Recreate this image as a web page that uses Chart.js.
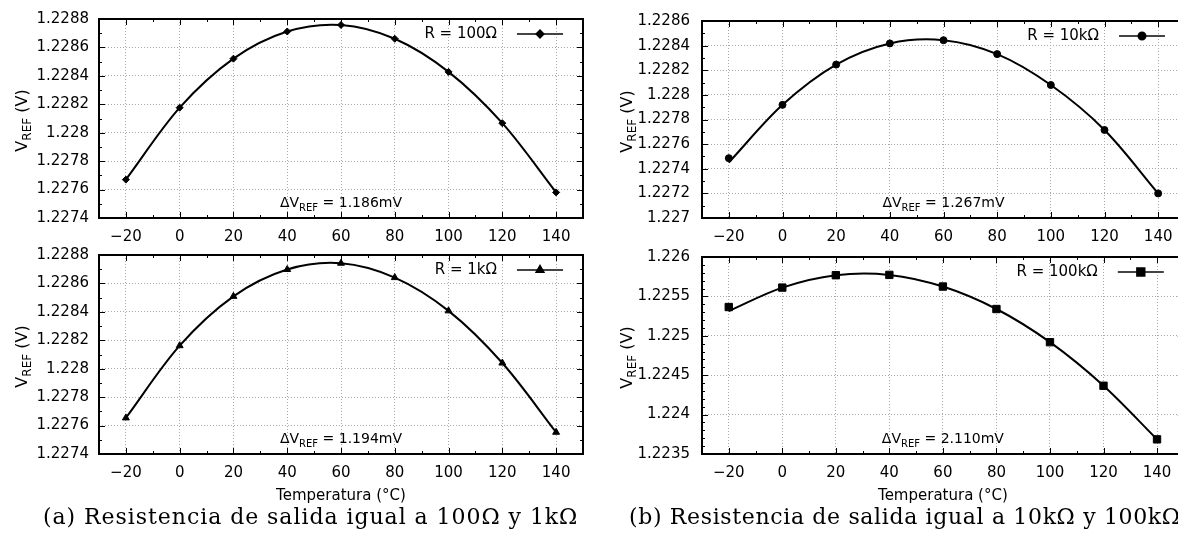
<!DOCTYPE html>
<html>
<head>
<meta charset="utf-8">
<script src="https://cdn.jsdelivr.net/npm/chart.js@4.4.1/dist/chart.umd.min.js"></script>
<style>
  html, body { margin: 0; padding: 0; background: #fff; }
  body { width: 1178px; height: 533px; overflow: hidden; position: relative; }
  canvas { position: absolute; }
  .caption { position: absolute; top: 504px; font-family: 'DejaVu Serif', serif; font-size: 22px; letter-spacing: 0.95px; white-space: nowrap; color: #000; line-height: 26px; }
</style>
</head>
<body>
<canvas id="chart-100" width="590" height="250" style="left:0;top:0"></canvas>
<canvas id="chart-1k" width="590" height="297" style="left:0;top:236px"></canvas>
<canvas id="chart-10k" width="600" height="250" style="left:590px;top:0"></canvas>
<canvas id="chart-100k" width="600" height="297" style="left:590px;top:236px"></canvas>
<div class="caption" style="left:43px">(a) Resistencia de salida igual a 100Ω y 1kΩ</div>
<div class="caption" style="left:629px;letter-spacing:0.65px">(b) Resistencia de salida igual a 10kΩ y 100kΩ</div>
<script>
const TEMPERATURES = [-20, 0, 20, 40, 60, 80, 100, 120, 140];
const X_TICKS = [-20, 0, 20, 40, 60, 80, 100, 120, 140];

// measured V_REF (V)
const VREF_100 = [1.22767, 1.228176, 1.228521, 1.228712, 1.228758, 1.228661, 1.228428, 1.228067, 1.22758];
const VREF_1K = [1.227654, 1.228162, 1.228509, 1.228698, 1.228742, 1.228641, 1.228407, 1.22804, 1.227553];
const VREF_10K = [1.227486, 1.227919, 1.228246, 1.228418, 1.228444, 1.228331, 1.22808, 1.227715, 1.2272];
const VREF_100K = [1.225365, 1.225612, 1.225769, 1.225773, 1.225625, 1.22534, 1.224919, 1.224366, 1.223686];

// fitted curves
const FIT_100 = VREF_100;
const FIT_1K = VREF_1K;
const FIT_10K = [1.227451, 1.227919, 1.228246, 1.228418, 1.228444, 1.228331, 1.22808, 1.227715, 1.2272];
const FIT_100K = [1.225315, 1.225612, 1.225769, 1.225773, 1.225625, 1.22534, 1.224919, 1.224366, 1.223686];

const Y_TICKS_A = [1.2274, 1.2276, 1.2278, 1.228, 1.2282, 1.2284, 1.2286, 1.2288];
const Y_TICKS_10K = [1.227, 1.2272, 1.2274, 1.2276, 1.2278, 1.228, 1.2282, 1.2284, 1.2286];
const Y_TICKS_100K = [1.2235, 1.224, 1.2245, 1.225, 1.2255, 1.226];

const SERIES_LABELS = ['R = 100Ω', 'R = 1kΩ', 'R = 10kΩ', 'R = 100kΩ'];
const DELTA_LABELS = ['1.186mV', '1.194mV', '1.267mV', '2.110mV'];

const SANS = '"DejaVu Sans", sans-serif';

function drawRich(ctx, parts, x, y) {
  let total = 0;
  parts.forEach((p) => {
    ctx.font = `${p.size}px ${SANS}`;
    p.w = ctx.measureText(p.text).width;
    total += p.w;
  });
  let cx = x - total / 2;
  ctx.textAlign = 'left';
  ctx.textBaseline = 'alphabetic';
  parts.forEach((p) => {
    ctx.font = `${p.size}px ${SANS}`;
    ctx.fillText(p.text, cx, y + (p.dy || 0));
    cx += p.w;
  });
}

function steps(min, max, step) {
  const out = [];
  for (let k = Math.ceil(min / step - 1e-6); k <= Math.floor(max / step + 1e-6); k++) out.push(k * step);
  return out;
}

function drawMarker(ctx, style, radius, x, y) {
  if (Chart.helpers && Chart.helpers.drawPoint) {
    Chart.helpers.drawPoint(ctx, { pointStyle: style, radius, rotation: 0, borderWidth: 1 }, x, y);
    return;
  }
  ctx.beginPath();
  ctx.arc(x, y, radius, 0, Math.PI * 2);
  ctx.fill();
}

const gnuplotFrame = {
  id: 'gnuplotFrame',
  afterDraw(chart, args, opts) {
    const { ctx, chartArea: a, scales: { x, y } } = chart;
    ctx.save();
    ctx.strokeStyle = '#000';
    ctx.fillStyle = '#000';

    // inward tick marks on all four sides
    ctx.lineWidth = 1;
    ctx.beginPath();
    steps(x.min, x.max, 10).forEach((v) => {
      const px = Math.round(x.getPixelForValue(v)) + 0.5;
      const len = X_TICKS.includes(v) ? 6 : 3;
      ctx.moveTo(px, a.bottom); ctx.lineTo(px, a.bottom - len);
      ctx.moveTo(px, a.top); ctx.lineTo(px, a.top + len);
    });
    steps(y.min, y.max, opts.yMinor).forEach((v) => {
      const py = Math.round(y.getPixelForValue(v)) + 0.5;
      const major = opts.yTicks.some((t) => Math.abs(t - v) < 1e-9);
      const len = major ? 6 : 3;
      ctx.moveTo(a.left, py); ctx.lineTo(a.left + len, py);
      ctx.moveTo(a.right, py); ctx.lineTo(a.right - len, py);
    });
    ctx.stroke();

    ctx.lineWidth = 2;
    ctx.strokeRect(a.left, a.top, a.right - a.left, a.bottom - a.top);

    // key
    const ky = a.top + 15;
    ctx.font = `15px ${SANS}`;
    ctx.textAlign = 'right';
    ctx.textBaseline = 'middle';
    ctx.fillText(opts.label, a.right - 86, ky);
    ctx.strokeStyle = '#444';
    ctx.lineWidth = 2;
    ctx.beginPath();
    ctx.moveTo(a.right - 66, ky); ctx.lineTo(a.right - 20, ky);
    ctx.stroke();
    ctx.strokeStyle = '#000';
    drawMarker(ctx, opts.marker, opts.radius, a.right - 43, ky);

    // delta annotation
    drawRich(ctx, [
      { text: 'ΔV', size: 14 },
      { text: 'REF', size: 10, dy: 4 },
      { text: ' = ' + opts.delta, size: 14 },
    ], (a.left + a.right) / 2, a.bottom - 11);

    // y title
    ctx.save();
    ctx.translate(a.left - opts.yTitleGap, (a.top + a.bottom) / 2 + 2);
    ctx.rotate(-Math.PI / 2);
    drawRich(ctx, [
      { text: 'V', size: 16 },
      { text: 'REF', size: 12, dy: 4 },
      { text: ' (V)', size: 16 },
    ], 0, 0);
    ctx.restore();

    if (opts.xTitle) {
      ctx.font = `15px ${SANS}`;
      ctx.textAlign = 'center';
      ctx.textBaseline = 'middle';
      ctx.fillText('Temperatura (°C)', (a.left + a.right) / 2, a.bottom + 42);
    }
    ctx.restore();
  },
};

function yLabel(v) {
  return String(Number(v.toFixed(4)));
}

function xLabel(v) {
  return v < 0 ? '\u2212' + Math.abs(v) : String(v);
}

function makeChart(id, cfg) {
  const points = TEMPERATURES.map((t, i) => ({ x: t, y: cfg.values[i] }));
  const curve = TEMPERATURES.map((t, i) => ({ x: t, y: cfg.fit[i] }));
  const gridColor = '#a8a8a8';
  return new Chart(document.getElementById(id), {
    type: 'line',
    data: {
      datasets: [
        { data: curve, borderColor: '#000', borderWidth: 2, pointRadius: 0, tension: 0.33, fill: false },
        {
          data: points, showLine: false, pointStyle: cfg.marker, pointRadius: cfg.radius,
          pointBackgroundColor: '#000', pointBorderColor: '#000', pointBorderWidth: 1,
        },
      ],
    },
    options: {
      responsive: false,
      animation: false,
      events: [],
      layout: { padding: { left: 0, top: 16, right: cfg.padRight, bottom: 0 } },
      plugins: {
        legend: { display: false },
        tooltip: { enabled: false },
        gnuplotFrame: {
          label: cfg.label, delta: cfg.delta, marker: cfg.marker, radius: cfg.radius,
          yTicks: cfg.yTicks, yMinor: cfg.yMinor, yTitleGap: cfg.yTitleGap, xTitle: cfg.xTitle,
        },
      },
      scales: {
        x: {
          type: 'linear', min: -30, max: 150,
          afterBuildTicks: (s) => { s.ticks = X_TICKS.map((v) => ({ value: v })); },
          afterFit: (s) => { s.height = cfg.xHeight; },
          grid: { color: gridColor, lineWidth: 1, drawTicks: false },
          border: { display: false, dash: [1, 2] },
          ticks: { padding: 10, color: '#000', font: { family: SANS, size: 15 }, maxRotation: 0, callback: xLabel },
        },
        y: {
          type: 'linear', min: cfg.yTicks[0], max: cfg.yTicks[cfg.yTicks.length - 1],
          afterBuildTicks: (s) => { s.ticks = cfg.yTicks.map((v) => ({ value: v })); },
          afterFit: (s) => { s.width = cfg.yWidth; },
          grid: { color: gridColor, lineWidth: 1, drawTicks: false },
          border: { display: false, dash: [1, 2] },
          ticks: { padding: cfg.yPad, color: '#000', font: { family: SANS, size: 15 }, callback: yLabel },
        },
      },
    },
    plugins: [gnuplotFrame],
  });
}

makeChart('chart-100', {
  values: VREF_100, fit: FIT_100, yTicks: Y_TICKS_A, yMinor: 0.0001,
  label: SERIES_LABELS[0], delta: DELTA_LABELS[0], marker: 'rectRot', radius: 3.5,
  padRight: 7, yWidth: 99, yPad: 10, xHeight: 32, yTitleGap: 72, xTitle: false,
});
makeChart('chart-1k', {
  values: VREF_1K, fit: FIT_1K, yTicks: Y_TICKS_A, yMinor: 0.0001,
  label: SERIES_LABELS[1], delta: DELTA_LABELS[1], marker: 'triangle', radius: 4,
  padRight: 7, yWidth: 99, yPad: 10, xHeight: 79, yTitleGap: 72, xTitle: true,
});
makeChart('chart-10k', {
  values: VREF_10K, fit: FIT_10K, yTicks: Y_TICKS_10K, yMinor: 0.0001,
  label: SERIES_LABELS[2], delta: DELTA_LABELS[2], marker: 'circle', radius: 3.5,
  padRight: 5, yWidth: 112, yPad: 12, xHeight: 32, yTitleGap: 70, xTitle: false,
});
makeChart('chart-100k', {
  values: VREF_100K, fit: FIT_100K, yTicks: Y_TICKS_100K, yMinor: 0.0001,
  label: SERIES_LABELS[3], delta: DELTA_LABELS[3], marker: 'rect', radius: 5.2,
  padRight: 5, yWidth: 112, yPad: 12, xHeight: 79, yTitleGap: 70, xTitle: true,
});
</script>
</body>
</html>
